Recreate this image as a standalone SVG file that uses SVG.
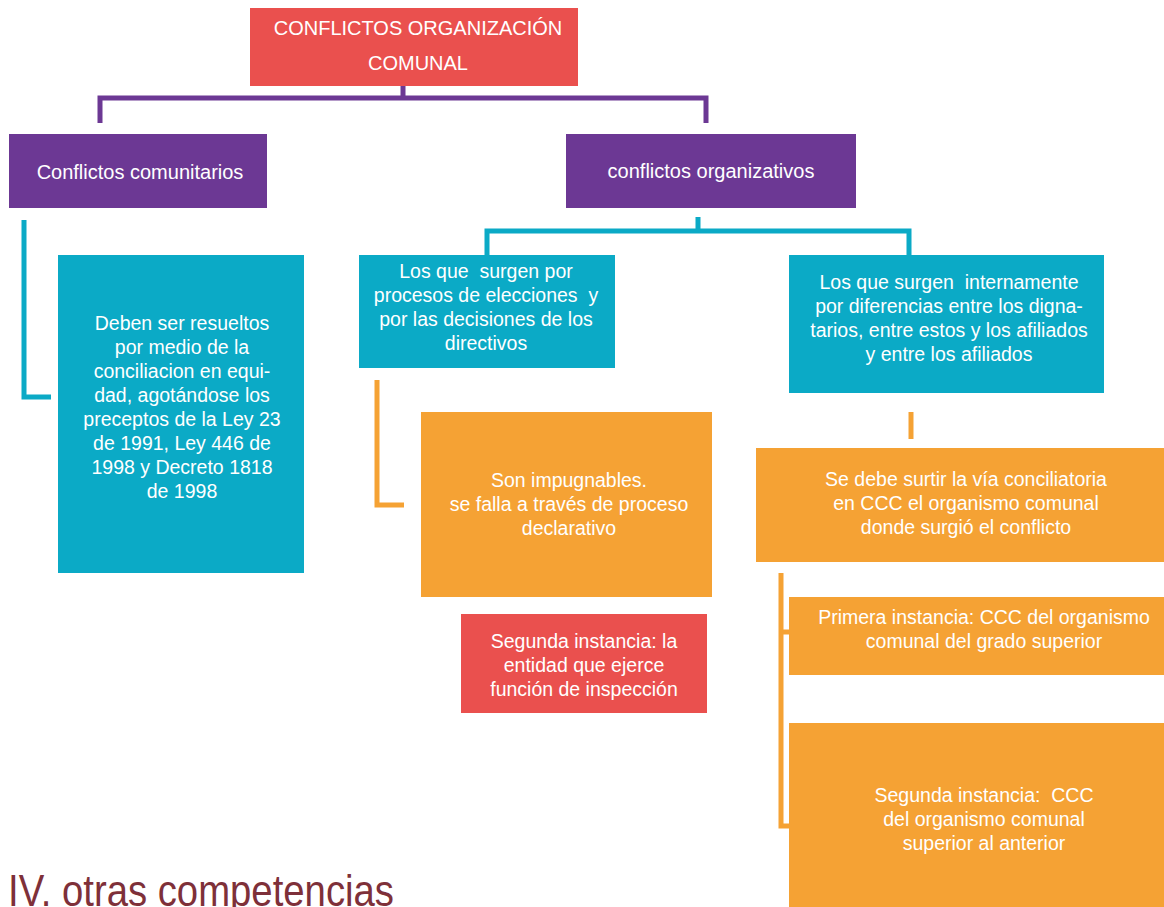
<svg xmlns="http://www.w3.org/2000/svg" width="1164" height="907" viewBox="0 0 1164 907">
<style>
  text { font-family: "Liberation Sans", Arial, sans-serif; fill: #ffffff; text-anchor: middle; white-space: pre; }
  .t { font-size: 19.5px; }
  .h { font-size: 20px; }
  .p { font-size: 20px; }
  .c { fill: none; stroke-width: 5; stroke-linejoin: miter; stroke-linecap: butt; }
  .purple { stroke: #6C3894; }
  .teal { stroke: #0BAAC6; }
  .orange { stroke: #F5A234; }
  .bx-red { fill: #EA504E; }
  .bx-purple { fill: #6C3894; }
  .bx-teal { fill: #0BAAC6; }
  .bx-orange { fill: #F5A234; }
  .title { font-size: 44px; fill: #7E3039; text-anchor: start; }
</style>
<g id="connectors">
  <path class="c purple" d="M403 86 V98 M100 123 V98 H706 V123"/>
  <path class="c teal" d="M24 220 V397 H51"/>
  <path class="c teal" d="M698 217 V231 M487 255 V231 H909 V255"/>
  <path class="c orange" d="M377 380 V505 H404"/>
  <path class="c orange" d="M911 412 V439"/>
  <path class="c orange" d="M781 573 V826 H789 M781 632 H789"/>
</g>
<g id="root">
  <rect class="bx-red" x="250" y="8" width="328" height="78"/>
  <text class="h" x="418" y="35">CONFLICTOS ORGANIZACIÓN</text>
  <text class="h" x="418" y="70">COMUNAL</text>
</g>
<g id="comunitarios">
  <rect class="bx-purple" x="9" y="134" width="258" height="74"/>
  <text class="p" x="140" y="179">Conflictos comunitarios</text>
</g>
<g id="organizativos">
  <rect class="bx-purple" x="566" y="134" width="290" height="74"/>
  <text class="p" x="711" y="178">conflictos organizativos</text>
</g>
<g id="deben">
  <rect class="bx-teal" x="58" y="255" width="246" height="318"/>
  <text class="t" x="182" y="330">Deben ser resueltos</text>
  <text class="t" x="182" y="354">por medio de la</text>
  <text class="t" x="182" y="378">conciliacion en equi-</text>
  <text class="t" x="182" y="402">dad, agotándose los</text>
  <text class="t" x="182" y="426">preceptos de la Ley 23</text>
  <text class="t" x="182" y="450">de 1991, Ley 446 de</text>
  <text class="t" x="182" y="474">1998 y Decreto 1818</text>
  <text class="t" x="182" y="498">de 1998</text>
</g>
<g id="elecciones">
  <rect class="bx-teal" x="359" y="255" width="256" height="113"/>
  <text class="t" x="486" y="278">Los que  surgen por</text>
  <text class="t" x="486" y="302">procesos de elecciones  y</text>
  <text class="t" x="486" y="326">por las decisiones de los</text>
  <text class="t" x="486" y="350">directivos</text>
</g>
<g id="internamente">
  <rect class="bx-teal" x="789" y="255" width="315" height="138"/>
  <text class="t" x="949" y="289">Los que surgen  internamente</text>
  <text class="t" x="949" y="313">por diferencias entre los digna-</text>
  <text class="t" x="949" y="337">tarios, entre estos y los afiliados</text>
  <text class="t" x="949" y="361">y entre los afiliados</text>
</g>
<g id="impugnables">
  <rect class="bx-orange" x="421" y="412" width="291" height="185"/>
  <text class="t" x="569" y="487">Son impugnables.</text>
  <text class="t" x="569" y="511">se falla a través de proceso</text>
  <text class="t" x="569" y="535">declarativo</text>
</g>
<g id="segunda-inspeccion">
  <rect class="bx-red" x="461" y="614" width="246" height="99"/>
  <text class="t" x="584" y="648">Segunda instancia: la</text>
  <text class="t" x="584" y="672">entidad que ejerce</text>
  <text class="t" x="584" y="696">función de inspección</text>
</g>
<g id="conciliatoria">
  <rect class="bx-orange" x="756" y="448" width="408" height="114"/>
  <text class="t" x="966" y="486">Se debe surtir la vía conciliatoria</text>
  <text class="t" x="966" y="510">en CCC el organismo comunal</text>
  <text class="t" x="966" y="534">donde surgió el conflicto</text>
</g>
<g id="primera">
  <rect class="bx-orange" x="789" y="597" width="375" height="78"/>
  <text class="t" x="984" y="624">Primera instancia: CCC del organismo</text>
  <text class="t" x="984" y="648">comunal del grado superior</text>
</g>
<g id="segunda-ccc">
  <rect class="bx-orange" x="789" y="723" width="375" height="184"/>
  <text class="t" x="984" y="802">Segunda instancia:  CCC</text>
  <text class="t" x="984" y="826">del organismo comunal</text>
  <text class="t" x="984" y="850">superior al anterior</text>
</g>
<text class="title" x="8" y="906" textLength="386" lengthAdjust="spacingAndGlyphs">IV. otras competencias</text>
</svg>
